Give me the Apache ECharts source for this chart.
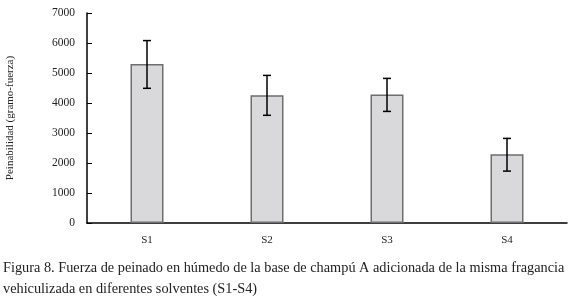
<!DOCTYPE html>
<html>
<head>
<meta charset="utf-8">
<script src="https://cdn.jsdelivr.net/npm/echarts@6/dist/echarts.min.js"></script>
<style>
  html, body { margin: 0; padding: 0; background: #fff; }
  #chart { width: 573px; height: 302px; }
</style>
</head>
<body>
<div id="chart"></div>
<script>
const categories = ['S1', 'S2', 'S3', 'S4'];
const means = [5300, 4260, 4280, 2290];
const errLow = [4490, 3590, 3720, 1730];
const errHigh = [6080, 4920, 4820, 2820];
const yTicks = [0, 1000, 2000, 3000, 4000, 5000, 6000, 7000];

const serif = '"Liberation Serif", "DejaVu Serif", serif';

const chart = echarts.init(document.getElementById('chart'));
chart.setOption({
    animation: false,
    title: {
        text: 'Figura 8. Fuerza de peinado en húmedo de la base de champú A adicionada de la misma fragancia\nvehiculizada en diferentes solventes (S1-S4)',
        left: 3,
        top: 258,
        padding: 0,
        textStyle: {
            fontFamily: serif,
            fontSize: 14.3,
            fontWeight: 'normal',
            color: '#222',
            lineHeight: 21
        }
    },
    grid: { left: 87, right: 6, top: 13, bottom: 79, outerBoundsMode: 'none' },
    xAxis: {
        type: 'category',
        data: categories,
        axisLine: { lineStyle: { color: '#000', width: 1.5 } },
        axisTick: { show: false },
        axisLabel: { fontFamily: serif, fontSize: 11, color: '#222', margin: 12 }
    },
    yAxis: {
        type: 'value',
        min: yTicks[0],
        max: yTicks[yTicks.length - 1],
        interval: 1000,
        name: 'Peinabilidad (gramo-fuerza)',
        nameLocation: 'middle',
        nameGap: 71,
        nameTextStyle: { fontFamily: serif, fontSize: 11, color: '#222' },
        axisLine: { show: true, lineStyle: { color: '#000', width: 1.5 } },
        axisTick: { show: true, inside: true, length: 5, lineStyle: { color: '#000' } },
        axisLabel: {
            fontFamily: serif, fontSize: 11.5, color: '#222', margin: 12,
            formatter: v => String(v)
        },
        splitLine: { show: false }
    },
    series: [
        {
            type: 'bar',
            data: means,
            barWidth: 33,
            itemStyle: { color: '#d9d9db', borderColor: '#6e6e6e', borderWidth: 1.5 }
        },
        {
            type: 'custom',
            data: categories.map((c, i) => [i, errLow[i], errHigh[i]]),
            renderItem: function (params, api) {
                const lo = api.coord([api.value(0), api.value(1)]);
                const hi = api.coord([api.value(0), api.value(2)]);
                const w = 4;
                const style = { stroke: '#000', lineWidth: 1.5 };
                return {
                    type: 'group',
                    children: [
                        { type: 'line', shape: { x1: lo[0], y1: lo[1], x2: hi[0], y2: hi[1] }, style: style },
                        { type: 'line', shape: { x1: lo[0] - w, y1: lo[1], x2: lo[0] + w, y2: lo[1] }, style: style },
                        { type: 'line', shape: { x1: hi[0] - w, y1: hi[1], x2: hi[0] + w, y2: hi[1] }, style: style }
                    ]
                };
            },
            z: 10
        }
    ]
});
</script>
</body>
</html>
